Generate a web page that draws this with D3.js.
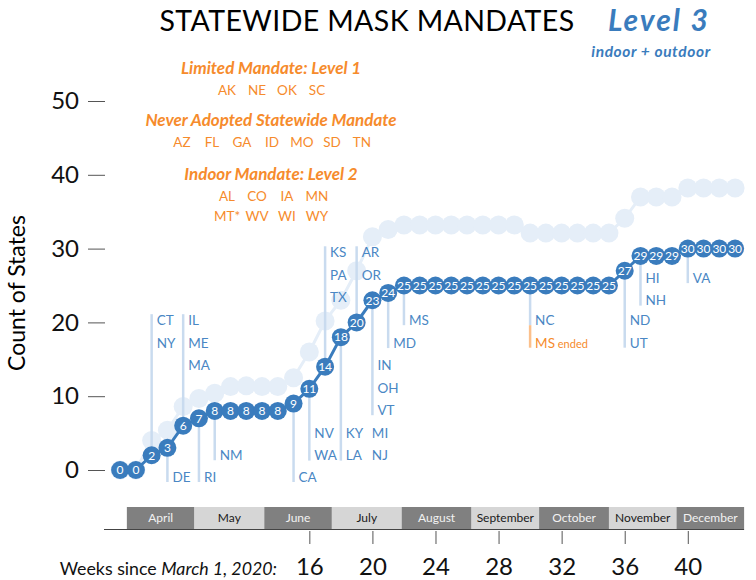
<!DOCTYPE html>
<html>
<head>
<meta charset="utf-8">
<script src="https://cdn.jsdelivr.net/npm/d3@7"></script>
<style>
body { margin: 0; background: #fff; }
svg text { font-family: "Gill Sans", Lato, "Open Sans", sans-serif; }
</style>
</head>
<body>
<svg id="chart" width="756" height="580"></svg>
<script>
// weeks since March 1, 2020
var weeks = [4, 5, 6, 7, 8, 9, 10, 11, 12, 13, 14, 15, 16, 17, 18, 19, 20, 21, 22, 23,
             24, 25, 26, 27, 28, 29, 30, 31, 32, 33, 34, 35, 36, 37, 38, 39, 40, 41, 42, 43];
// states with a level 3 (indoor + outdoor) mandate
var level3 = [0, 0, 2, 3, 6, 7, 8, 8, 8, 8, 8, 9, 11, 14, 18, 20, 23, 24, 25, 25,
              25, 25, 25, 25, 25, 25, 25, 25, 25, 25, 25, 25, 27, 29, 29, 29, 30, 30, 30, 30];
// states with any indoor mandate (level 2 + 3), pale series behind
var anyIndoor = [0, 0, 4, 5.4, 8.6, 9.7, 10.4, 11.3, 11.4, 11.3, 11.3, 12.5, 16, 20.2, 23, 27, 31.6, 32.6, 33.2, 33.2,
                 33.2, 33.2, 33.2, 33.2, 33.2, 33.2, 32.1, 32.1, 32.1, 32.1, 32.1, 32.1, 34.1, 37, 37, 37, 38.2, 38.2, 38.2, 38.2];

var yTicks = [0, 10, 20, 30, 40, 50];
var xTicks = [16, 20, 24, 28, 32, 36, 40];

var months = ["April", "May", "June", "July", "August", "September", "October", "November", "December"];
var monthStartDay = [31, 61, 92, 122, 153, 184, 214, 245, 275, 305]; // days since March 1, last = end of Dec

var level1States = ["AK", "NE", "OK", "SC"];
var neverStates = ["AZ", "FL", "GA", "ID", "MO", "SD", "TN"];
var level2StatesA = ["AL", "CO", "IA", "MN"];
var level2StatesB = ["MT*", "WV", "WI", "WY"];

// states added each week; "at" = count value of the first label row
var notes = [
    {week: 6,  dir: "up",   at: 20.3, states: ["CT", "NY"]},
    {week: 7,  dir: "down", at: -0.95, states: ["DE"]},
    {week: 8,  dir: "up",   at: 20.3, states: ["IL", "ME", "MA"]},
    {week: 9,  dir: "down", at: -0.95, states: ["RI"]},
    {week: 10, dir: "down", at: 2,    states: ["NM"]},
    {week: 15, dir: "down", at: -0.95, states: ["CA"]},
    {week: 16, dir: "down", at: 5,    states: ["NV", "WA"]},
    {week: 17, dir: "up",   at: 29.5, states: ["KS", "PA", "TX"]},
    {week: 18, dir: "down", at: 5,    states: ["KY", "LA"], more: ["MI", "NJ"]},
    {week: 19, dir: "up",   at: 29.5, states: ["AR", "OR"]},
    {week: 20, dir: "down", at: 14.2, states: ["IN", "OH", "VT"]},
    {week: 21, dir: "down", at: 17.2, states: ["MD"]},
    {week: 22, dir: "down", at: 20.3, states: ["MS"]},
    {week: 30, dir: "down", at: 20.3, states: ["NC"], ended: "MS"},
    {week: 36, dir: "down", at: 20.3, states: ["ND", "UT"]},
    {week: 37, dir: "down", at: 26,   states: ["HI", "NH"]},
    {week: 40, dir: "down", at: 26,   states: ["VA"]}
];

var blue = "#3a7cbd";
var labelBlue = "#4a87c4";
var pale = "#e5eef8";
var noteLine = "#c9dbef";
var orange = "#f68b2c";
var rowStep = 22.5;
var r = 9;

var svg = d3.select("#chart");

var x = d3.scaleLinear().domain([4, 43]).range([120.1, 735.1]);
var y = d3.scaleLinear().domain([0, 50]).range([470, 101]);

var data = weeks.map(function(w, i) {
    return {week: w, v: level3[i], a: anyIndoor[i]};
});

// title
svg.append("text")
    .attr("x", 367).attr("y", 31)
    .attr("text-anchor", "middle")
    .style("font-size", "28.5px")
    .style("letter-spacing", "0.4px")
    .text("STATEWIDE MASK MANDATES");
svg.append("text")
    .attr("x", 608).attr("y", 31)
    .attr("fill", blue)
    .style("font-size", "30px")
    .style("font-style", "italic")
    .style("font-weight", "bold")
    .style("letter-spacing", "2px")
    .text("Level 3");
svg.append("text")
    .attr("x", 651).attr("y", 57)
    .attr("text-anchor", "middle")
    .attr("fill", blue)
    .style("font-size", "15.5px")
    .style("font-style", "italic")
    .style("font-weight", "bold")
    .style("letter-spacing", "0.6px")
    .text("indoor + outdoor");

// orange legend
function header(txt, yy) {
    svg.append("text")
        .attr("x", 271).attr("y", yy)
        .attr("text-anchor", "middle")
        .attr("fill", orange)
        .style("font-size", "17px")
        .style("font-style", "italic")
        .style("font-weight", "bold")
        .text(txt);
}
function stateRow(list, yy) {
    svg.append("g").selectAll("text")
        .data(list)
        .enter()
        .append("text")
        .attr("x", function(d, i) { return 272 + (i - (list.length - 1) / 2) * 30; })
        .attr("y", yy)
        .attr("text-anchor", "middle")
        .attr("fill", orange)
        .style("font-size", "13.5px")
        .text(function(d) { return d; });
}
header("Limited Mandate: Level 1", 74);
stateRow(level1States, 95);
header("Never Adopted Statewide Mandate", 126);
stateRow(neverStates, 147);
header("Indoor Mandate: Level 2", 180);
stateRow(level2StatesA, 200.5);
stateRow(level2StatesB, 220.5);

// y axis
var yAxis = svg.append("g")
    .attr("transform", "translate(105,0)")
    .call(d3.axisLeft(y).tickValues(yTicks).tickSize(17).tickPadding(9));
yAxis.select(".domain").remove();
yAxis.selectAll("line").attr("stroke", "#555");
yAxis.selectAll("text")
    .attr("fill", "#111")
    .style("font-size", "24px")
    .style("font-family", "\"Gill Sans\", Lato, sans-serif");

svg.append("text")
    .attr("transform", "translate(25,293) rotate(-90)")
    .attr("text-anchor", "middle")
    .style("font-size", "23px")
    .text("Count of States");

// pale series: any indoor mandate
var line = d3.line()
    .x(function(d) { return x(d.week); });

svg.append("path")
    .datum(data)
    .attr("fill", "none")
    .attr("stroke", pale)
    .attr("stroke-width", 3)
    .attr("d", line.y(function(d) { return y(d.a); }));

svg.append("g").selectAll("circle")
    .data(data)
    .enter()
    .append("circle")
    .attr("cx", function(d) { return x(d.week); })
    .attr("cy", function(d) { return y(d.a); })
    .attr("r", r + 0.5)
    .attr("fill", pale);

// annotation lines + state labels
var valueAt = {};
data.forEach(function(d) { valueAt[d.week] = d.v; });

var notesG = svg.append("g");
notes.forEach(function(n) {
    var cx = x(n.week);
    var cy = y(valueAt[n.week]);
    var firstY = y(n.at);
    var rows = n.states.length + (n.ended ? 1 : 0);
    var lastY = firstY + (rows - 1) * rowStep;
    if (n.dir == "up") {
        notesG.append("line")
            .attr("x1", cx).attr("x2", cx)
            .attr("y1", cy).attr("y2", firstY - 6)
            .attr("stroke", noteLine).attr("stroke-width", 2.5);
    } else if (n.ended) {
        var blueEnd = firstY + (n.states.length - 1) * rowStep + 5;
        notesG.append("line")
            .attr("x1", cx).attr("x2", cx)
            .attr("y1", cy).attr("y2", blueEnd)
            .attr("stroke", noteLine).attr("stroke-width", 2.5);
        notesG.append("line")
            .attr("x1", cx).attr("x2", cx)
            .attr("y1", blueEnd).attr("y2", lastY + 5)
            .attr("stroke", "#fbc08c").attr("stroke-width", 2.5);
    } else {
        notesG.append("line")
            .attr("x1", cx).attr("x2", cx)
            .attr("y1", cy).attr("y2", lastY + 5)
            .attr("stroke", noteLine).attr("stroke-width", 2.5);
    }
    n.states.forEach(function(s, i) {
        notesG.append("text")
            .attr("x", cx + 5)
            .attr("y", firstY + i * rowStep)
            .attr("dy", "0.36em")
            .attr("fill", labelBlue)
            .style("font-size", "13.5px")
            .text(s);
    });
    if (n.more) {
        n.more.forEach(function(s, i) {
            notesG.append("text")
                .attr("x", cx + 31)
                .attr("y", firstY + i * rowStep)
                .attr("dy", "0.36em")
                .attr("fill", labelBlue)
                .style("font-size", "13.5px")
                .text(s);
        });
    }
    if (n.ended) {
        var t = notesG.append("text")
            .attr("x", cx + 5)
            .attr("y", lastY)
            .attr("dy", "0.36em")
            .attr("fill", orange)
            .style("font-size", "13.5px");
        t.append("tspan").text(n.ended);
        t.append("tspan").style("font-size", "11px").text(" ended");
    }
});

// level 3 series
svg.append("path")
    .datum(data)
    .attr("fill", "none")
    .attr("stroke", blue)
    .attr("stroke-width", 3)
    .attr("d", line.y(function(d) { return y(d.v); }));

var dots = svg.append("g").selectAll("g")
    .data(data)
    .enter()
    .append("g")
    .attr("transform", function(d) {
        return "translate(" + x(d.week) + "," + y(d.v) + ")";
    });
dots.append("circle")
    .attr("r", r)
    .attr("fill", blue);
dots.append("text")
    .attr("text-anchor", "middle")
    .attr("dy", "0.36em")
    .attr("fill", "#fff")
    .style("font-size", "12px")
    .text(function(d) { return d.v; });

// month bar
var monthG = svg.append("g");
months.forEach(function(m, i) {
    var x0 = x(monthStartDay[i] / 7);
    var x1 = x(monthStartDay[i + 1] / 7);
    var dark = i % 2 == 0;
    monthG.append("rect")
        .attr("x", x0).attr("y", 507)
        .attr("width", x1 - x0).attr("height", 22)
        .attr("fill", dark ? "#808080" : "#d6d6d6");
    monthG.append("text")
        .attr("x", (x0 + x1) / 2).attr("y", 518)
        .attr("dy", "0.35em")
        .attr("text-anchor", "middle")
        .attr("fill", dark ? "#f2f2f2" : "#1a1a1a")
        .style("font-size", "12px")
        .text(m);
});
svg.append("line")
    .attr("x1", 104).attr("x2", x(monthStartDay[monthStartDay.length - 1] / 7))
    .attr("y1", 529.5).attr("y2", 529.5)
    .attr("stroke", "#444").attr("stroke-width", 1.2);

// x axis
var xAxis = svg.append("g")
    .attr("transform", "translate(0,531)")
    .call(d3.axisBottom(x).tickValues(xTicks).tickSize(13).tickPadding(14));
xAxis.select(".domain").remove();
xAxis.selectAll("line").attr("stroke", "#555");
xAxis.selectAll("text")
    .attr("fill", "#111")
    .style("font-size", "24px")
    .style("font-family", "\"Gill Sans\", Lato, sans-serif");

var wk = svg.append("text")
    .attr("x", 277).attr("y", 575)
    .attr("text-anchor", "end")
    .attr("fill", "#111")
    .style("font-size", "17.8px");
wk.append("tspan").text("Weeks since ");
wk.append("tspan").style("font-style", "italic").text("March 1, 2020:");
</script>
</body>
</html>
